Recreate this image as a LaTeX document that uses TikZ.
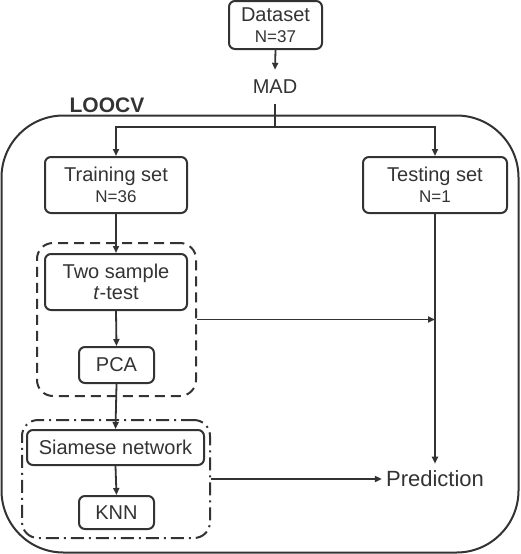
\documentclass[tikz,border=0pt]{standalone}
\usepackage{fontspec}
\setmainfont{Liberation Sans}
\usetikzlibrary{arrows.meta}
\definecolor{ink}{HTML}{333333}
\tikzset{
  box/.style={draw=ink, line width=2pt, rounded corners=6pt, align=center, text=ink, font=\fontsize{20}{22}\selectfont, inner sep=0pt},
  plain/.style={text=ink, inner sep=0pt},
  conn/.style={draw=ink, line width=1.8pt},
  arr/.style={conn, -{Triangle[length=7pt,width=6pt]}},
  grp/.style={draw=ink, line width=2pt, rounded corners=16pt, inner sep=0pt},
}
\newcommand{\nsm}{\fontsize{17}{19}\selectfont}
\begin{document}
\begin{tikzpicture}[x=1pt,y=-1pt]
\useasboundingbox (0,0) rectangle (520,554);
% big LOOCV rectangle
\node[draw=ink, line width=2pt, rounded corners=62pt, minimum width=517pt, minimum height=437pt, inner sep=0pt] (loocv) at (260,334) {};
\node[plain, font=\fontsize{21}{23}\selectfont\bfseries] (looLabel) at (107,105) {LOOCV};
% groups
\node[grp, dash pattern=on 10pt off 6pt, minimum width=159pt, minimum height=153pt] (dgroup) at (116.5,319.5) {};
\node[grp, dash pattern=on 13pt off 5pt on 2pt off 5pt, minimum width=188pt, minimum height=118pt] (ddgroup) at (116,479) {};
% boxes
\node[box, minimum width=93pt, minimum height=48pt] (data) at (275.5,25) {Dataset\\[-1pt]{\nsm N=37}};
\node[plain, font=\fontsize{20}{22}\selectfont, minimum height=34pt] (mad) at (275,87) {MAD};
\node[box, minimum width=142pt, minimum height=56pt] (train) at (116,185) {Training set\\[-1pt]{\nsm N=36}};
\node[box, minimum width=144pt, minimum height=56pt] (test) at (435,185) {Testing set\\[-1pt]{\nsm N=1}};
\node[box, minimum width=142pt, minimum height=56pt] (two) at (116,282) {Two sample\\[-1pt]\textit{t}-test};
\node[box, minimum width=75pt, minimum height=36pt] (pca) at (116.5,365) {PCA};
\node[box, minimum width=177pt, minimum height=35pt] (siam) at (115.5,447.5) {Siamese network};
\node[box, minimum width=75pt, minimum height=33pt] (knn) at (116.5,512.5) {KNN};
\node[plain, font=\fontsize{22}{24}\selectfont, inner xsep=4pt, inner ysep=7pt] (pred) at (435,479) {Prediction};
\coordinate (jn) at (275,127);
% connectors
\draw[arr] (data.south) -- (mad.north);
\draw[conn] (mad.south) -- (jn);
\draw[arr] (jn) -| (train.north);
\draw[arr] (jn) -| (test.north);
\draw[arr] (train.south) -- (two.north);
\draw[arr] (two.south) -- (pca.north);
\draw[arr] (pca.south) -- (siam.north);
\draw[arr] (siam.south) -- (knn.north);
\draw[arr] (test.south) -- (pred.north);
\draw[arr] (dgroup.east) -- (dgroup.east -| test.south);
\draw[arr] (ddgroup.east) -- (pred.west);
\end{tikzpicture}
\end{document}
